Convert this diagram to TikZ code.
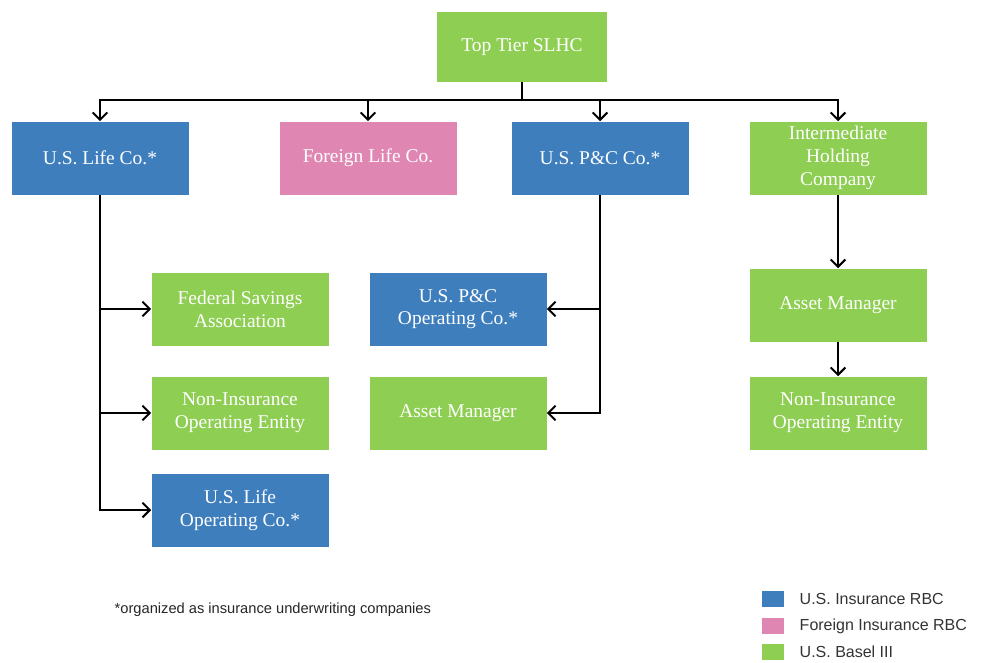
\documentclass[tikz,border=0pt]{standalone}
\usepackage{fontspec}
\setmainfont{Liberation Serif}
\setsansfont{Liberation Sans}
\usetikzlibrary{arrows.meta,positioning}

\definecolor{rbcblue}{RGB}{62,126,189}
\definecolor{rbcpink}{RGB}{224,134,178}
\definecolor{baselgreen}{RGB}{142,206,82}

\begin{document}
\begin{tikzpicture}[x=0.75pt,y=-0.75pt,
  >={Straight Barb[length=5.5pt,width=11pt]},
  entity/.style={minimum width=132.75pt,minimum height=54.75pt,inner sep=2pt,
    text=white,align=center,font=\fontsize{14.6}{17}\selectfont},
  usins/.style={entity,fill=rbcblue},
  forins/.style={entity,fill=rbcpink},
  basel/.style={entity,fill=baselgreen},
  link/.style={line width=1.5pt,->},
  key/.style={minimum width=16.5pt,minimum height=12pt,inner sep=0pt},
  keytext/.style={anchor=west,font=\sffamily\fontsize{12}{14}\selectfont,text=black!80}]
\useasboundingbox (0,0) rectangle (984,662);

% holding company
\node[basel,minimum width=127.5pt,minimum height=52.5pt] (top) at (522,47) {Top Tier SLHC};
\coordinate (bus) at (522,100);

% first tier
\node[usins] (lifeco) at (100,158) {U.S. Life Co.*};
\node[forins] (foreign) at (368,158) {Foreign Life Co.};
\node[usins] (pcco) at (600,158) {U.S. P\&C Co.*};
\node[basel] (ihc) at (838,158) {Intermediate\\Holding\\Company};

% subsidiaries
\node[basel] (fsa) at (240,309) {Federal Savings\\Association};
\node[basel] (nonins) at (240,413) {Non-Insurance\\Operating Entity};
\node[usins] (lifeop) at (240,510) {U.S. Life\\Operating Co.*};
\node[usins] (pcop) at (458,309) {U.S. P\&C\\Operating Co.*};
\node[basel] (pcam) at (458,413) {Asset Manager};
\node[basel] (ihcam) at (838,305) {Asset Manager};
\node[basel] (ihcnon) at (838,413) {Non-Insurance\\Operating Entity};

% connectors
\draw[line width=1.5pt] (top.south) -- (bus);
\foreach \n in {lifeco,foreign,pcco,ihc}
  \draw[link] (bus) -| (\n.north);
\foreach \n in {fsa,nonins,lifeop}
  \draw[link] (lifeco.south) |- (\n.west);
\foreach \n in {pcop,pcam}
  \draw[link] (pcco.south) |- (\n.east);
\draw[link] (ihc) -- (ihcam);
\draw[link] (ihcam) -- (ihcnon);

% footnote and legend
\node[anchor=west,font=\sffamily\fontsize{11}{13}\selectfont,text=black!85] (note) at (110,610)
  {*organized as insurance underwriting companies};
\node[key,fill=rbcblue] (kblue) at (773,599) {};
\node[key,fill=rbcpink] (kpink) at (773,626) {};
\node[key,fill=baselgreen] (kgreen) at (773,652) {};
\node[keytext] (tblue) at (795,599) {U.S. Insurance RBC};
\node[keytext] (tpink) at (795,626) {Foreign Insurance RBC};
\node[keytext] (tgreen) at (795,652) {U.S. Basel III};
\end{tikzpicture}
\end{document}
